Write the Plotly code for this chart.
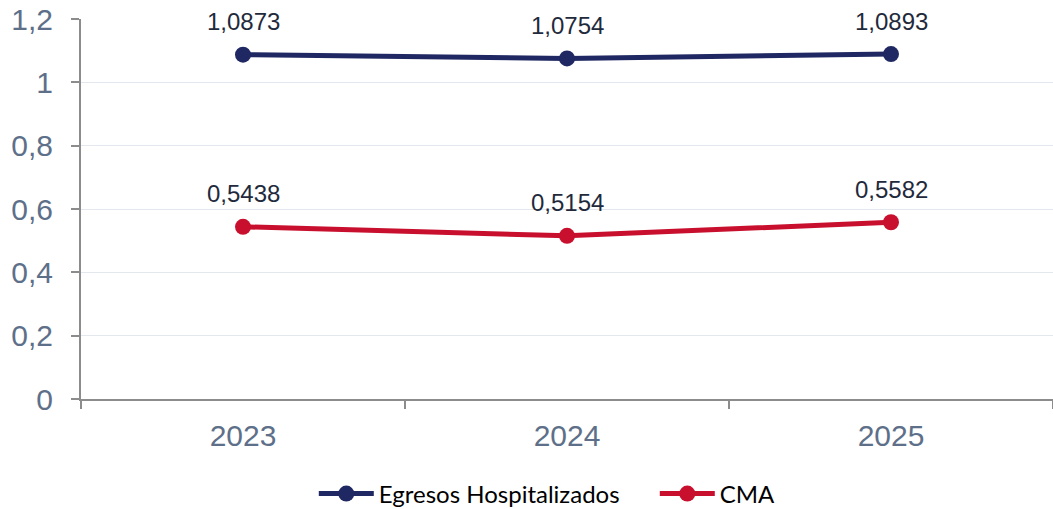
import plotly.graph_objects as go

years = ["2023", "2024", "2025"]
egresos = [1.0873, 1.0754, 1.0893]
cma = [0.5438, 0.5154, 0.5582]
series_names = ["Egresos Hospitalizados", "CMA"]
colors = ["#1f2862", "#c8102e"]

fig = go.Figure()
for name, vals, col in zip(series_names, [egresos, cma], colors):
    fig.add_trace(go.Scatter(
        x=years, y=vals, name=name, mode="lines+markers",
        line=dict(color=col, width=5),
        marker=dict(color=col, size=16),
    ))
    for i, yv in enumerate(vals):
        fig.add_annotation(
            x=i, y=yv, xref="x", yref="y", text=f"{yv:.4f}".replace(".", ","),
            showarrow=False, yshift=33,
            font=dict(family="Liberation Sans, Arial", size=24, color="#1f2a3c"),
        )

fig.update_layout(
    width=1053, height=509,
    margin=dict(l=81, r=0, t=19, b=110, autoexpand=False),
    paper_bgcolor="white", plot_bgcolor="white",
    separators=",.",
    showlegend=True,
    legend=dict(orientation="h", xref="container", yref="container",
                x=0.298, xanchor="left", y=15 / 509, yanchor="middle",
                itemwidth=55, entrywidth=271, entrywidthmode="pixels",
                font=dict(family="Lato", size=24, color="#000000")),
    xaxis=dict(
        type="category", range=[-0.5, 2.5], tickson="boundaries",
        ticks="outside", ticklen=8, tickcolor="#8c8c8c", tickwidth=2,
        showline=True, linecolor="#8c8c8c", linewidth=2, showgrid=False,
        ticklabelstandoff=9, automargin=False,
        tickfont=dict(family="Liberation Sans, Arial", size=30, color="#5e7089"),
    ),
    yaxis=dict(
        range=[0, 1.2], dtick=0.2, tick0=0,
        ticks="outside", ticklen=8, tickcolor="#8c8c8c", tickwidth=2,
        showline=True, linecolor="#8c8c8c", linewidth=2,
        showgrid=True, gridcolor="#e3e8ef", gridwidth=1,
        zeroline=False, ticklabelstandoff=12, automargin=False,
        tickfont=dict(family="Liberation Sans, Arial", size=30, color="#5e7089"),
    ),
)

fig.write_html("out.html", config={"displayModeBar": False},
               post_script="document.body.style.margin='0';")
